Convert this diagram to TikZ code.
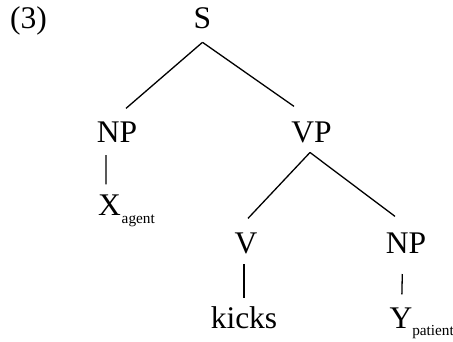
\documentclass[tikz,border=0pt]{standalone}
\usepackage{fontspec}
\setmainfont{Liberation Serif}
\tikzset{
  lab/.style={inner sep=0pt, outer sep=0pt, anchor=base, font=\fontsize{31.5}{36}\selectfont},
  sub/.style={inner sep=0pt, outer sep=0pt, anchor=base west, font=\fontsize{15.3}{18}\selectfont},
  edge/.style={draw=black, line width=1.3pt}
}
\begin{document}
\begin{tikzpicture}[x=1pt,y=-1pt]
\useasboundingbox (0,0) rectangle (453,341);
\node[lab] (num) at (28.5,28) {(3)};
\node[lab] (S) at (202.5,28) {S};
\node[lab] (NP1) at (117,142) {NP};
\node[lab] (VP) at (311.5,142) {VP};
\node[lab, anchor=base west] (X) at (98,215) {X};
\node[sub] (xsub) at ([xshift=1pt,yshift=-8pt]X.base east) {agent};
\node[lab] (V) at (246,253) {V};
\node[lab] (NP2) at (406,253) {NP};
\node[lab] (kicks) at (244,328) {kicks};
\node[lab, anchor=base west] (Y) at (389.5,328) {Y};
\node[sub] (ysub) at ([yshift=-7pt]Y.base east) {patient};
\draw[edge] ([yshift=-14pt]S.south) -- ([shift={(9pt,13pt)}]NP1.north);
\draw[edge] ([yshift=-14pt]S.south) -- ([shift={(-17.5pt,15pt)}]VP.north);
\draw[edge] ([shift={(-11pt,-13pt)}]NP1.south) -- ([shift={(-3.4pt,10pt)}]X.north);
\draw[edge] ([shift={(-1.5pt,-10pt)}]VP.south) -- ([shift={(2pt,14pt)}]V.north);
\draw[edge] ([shift={(-1.5pt,-10pt)}]VP.south) -- ([shift={(-11pt,16pt)}]NP2.north);
\draw[edge] ([shift={(-2pt,-11pt)}]V.south) -- ([shift={(0pt,8pt)}]kicks.north);
\draw[edge] ([shift={(-3.7pt,-21pt)}]NP2.south) -- ([shift={(1pt,13pt)}]Y.north);
\end{tikzpicture}
\end{document}
